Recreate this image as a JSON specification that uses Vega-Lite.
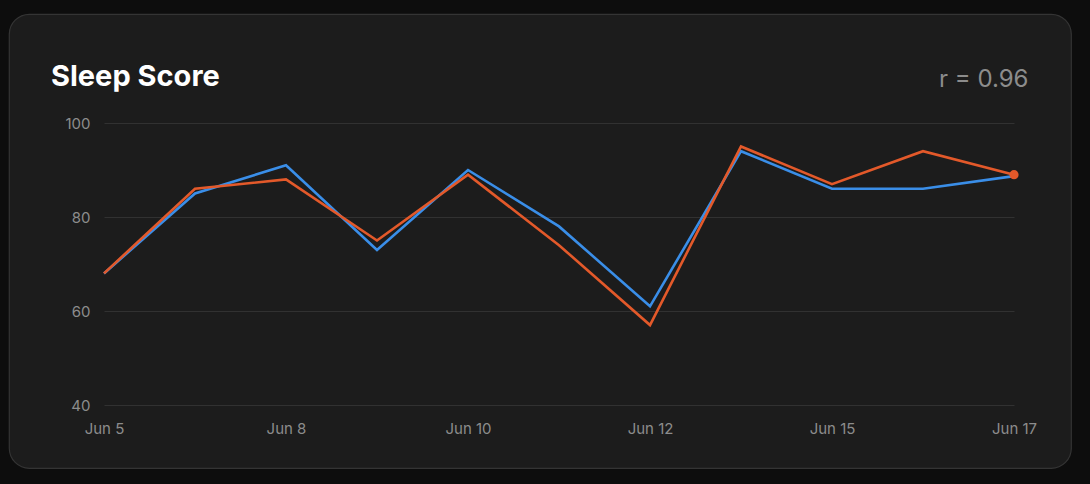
{
  "$schema": "https://vega.github.io/schema/vega-lite/v6.json",
  "width": 1062,
  "height": 454,
  "autosize": {"type": "none"},
  "padding": {"left": 9, "top": 14, "right": 19, "bottom": 16},
  "background": "#0d0d0d",
  "config": {
    "view": {"fill": "#1c1c1c", "stroke": "#343434", "strokeWidth": 1.2, "cornerRadius": 20},
    "font": "Inter"
  },
  "title": {
    "text": "Sleep Score",
    "anchor": "start",
    "frame": "group",
    "offset": -101,
    "baseline": "alphabetic",
    "dx": 42,
    "fontSize": 29,
    "fontWeight": "bold",
    "color": "#ffffff",
    "font": "Inter"
  },
  "data": {
    "values": [
      {"date": "Jun 5", "series": "Measured", "score": 68},
      {"date": "Jun 7", "series": "Measured", "score": 85},
      {"date": "Jun 8", "series": "Measured", "score": 91},
      {"date": "Jun 9", "series": "Measured", "score": 73},
      {"date": "Jun 10", "series": "Measured", "score": 90},
      {"date": "Jun 11", "series": "Measured", "score": 78},
      {"date": "Jun 12", "series": "Measured", "score": 61},
      {"date": "Jun 14", "series": "Measured", "score": 94},
      {"date": "Jun 15", "series": "Measured", "score": 86},
      {"date": "Jun 16", "series": "Measured", "score": 86},
      {"date": "Jun 17", "series": "Measured", "score": 88.7},
      {"date": "Jun 5", "series": "Estimated", "score": 68},
      {"date": "Jun 7", "series": "Estimated", "score": 86},
      {"date": "Jun 8", "series": "Estimated", "score": 88},
      {"date": "Jun 9", "series": "Estimated", "score": 75},
      {"date": "Jun 10", "series": "Estimated", "score": 89},
      {"date": "Jun 11", "series": "Estimated", "score": 74},
      {"date": "Jun 12", "series": "Estimated", "score": 57},
      {"date": "Jun 14", "series": "Estimated", "score": 95},
      {"date": "Jun 15", "series": "Estimated", "score": 87},
      {"date": "Jun 16", "series": "Estimated", "score": 94},
      {"date": "Jun 17", "series": "Estimated", "score": 89}
    ]
  },
  "encoding": {
    "x": {
      "field": "date",
      "type": "ordinal",
      "scale": {
        "type": "point",
        "domain": ["Jun 5", "Jun 7", "Jun 8", "Jun 9", "Jun 10", "Jun 11", "Jun 12", "Jun 14", "Jun 15", "Jun 16", "Jun 17"],
        "range": [95, 1005],
        "padding": 0
      },
      "axis": {
        "values": ["Jun 5", "Jun 8", "Jun 10", "Jun 12", "Jun 15", "Jun 17"],
        "labelAngle": 0,
        "offset": -63,
        "ticks": false,
        "domain": false,
        "grid": false,
        "labelPadding": 16,
        "labelColor": "#8c8c8c",
        "labelFontSize": 15,
        "labelFont": "Inter",
        "title": null
      }
    },
    "y": {
      "field": "score",
      "type": "quantitative",
      "scale": {"domain": [40, 100], "range": [391, 109], "nice": false, "zero": false},
      "axis": {
        "values": [40, 60, 80, 100],
        "offset": -95,
        "ticks": false,
        "domain": false,
        "grid": true,
        "gridColor": "#313131",
        "gridWidth": 1,
        "labelPadding": 14,
        "labelColor": "#8c8c8c",
        "labelFontSize": 15,
        "labelFont": "Inter",
        "title": "r = 0.96",
        "titleX": 924,
        "titleY": 72,
        "titleAngle": 0,
        "titleAlign": "right",
        "titleBaseline": "alphabetic",
        "titleFontSize": 24,
        "titleFontWeight": "normal",
        "titleColor": "#8c8c8c",
        "titleFont": "Inter"
      }
    },
    "color": {
      "field": "series",
      "type": "nominal",
      "scale": {"domain": ["Measured", "Estimated"], "range": ["#3a8ee8", "#e3592a"]},
      "legend": null
    }
  },
  "layer": [
    {
      "transform": [{"filter": "datum.series == 'Measured'"}],
      "mark": {"type": "line", "strokeWidth": 2.6, "strokeJoin": "miter"}
    },
    {
      "transform": [{"filter": "datum.series == 'Estimated'"}],
      "mark": {"type": "line", "strokeWidth": 2.6, "strokeJoin": "miter"}
    },
    {
      "transform": [{"filter": "datum.series == 'Estimated' && datum.date == 'Jun 17'"}],
      "mark": {"type": "circle", "size": 85, "opacity": 1}
    }
  ]
}
